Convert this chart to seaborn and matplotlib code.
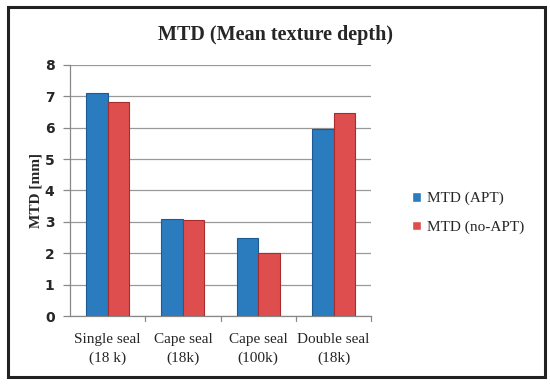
import pandas as pd
import matplotlib.pyplot as plt
import seaborn as sns
from matplotlib.patches import Rectangle

categories = ['Single seal\n(18 k)', 'Cape seal\n(18k)', 'Cape seal\n(100k)', 'Double seal\n(18k)']
mtd_apt = [7.1, 3.1, 2.5, 5.97]
mtd_no_apt = [6.83, 3.07, 2.0, 6.48]
series = ['MTD (APT)', 'MTD (no-APT)']

df = pd.DataFrame({
    'cat': categories * 2,
    'val': mtd_apt + mtd_no_apt,
    'series': [series[0]] * 4 + [series[1]] * 4,
})

sns.set_style('white')
plt.rcParams['font.family'] = ['Liberation Serif', 'DejaVu Serif']

fig = plt.figure(figsize=(5.5, 3.84), dpi=100)
ax = fig.add_axes([0.127, 0.177, 0.548, 0.654])

pal = {series[0]: '#2b7bbf', series[1]: '#de4e4e'}
sns.barplot(data=df, x='cat', y='val', hue='series', palette=pal, width=0.57,
            saturation=1, ax=ax, zorder=3)
edges = {series[0]: '#1d5a92', series[1]: '#a82c2c'}
for cont, s in zip(ax.containers, series):
    for b in cont:
        b.set_edgecolor(edges[s])
        b.set_linewidth(0.8)

ax.set_ylim(0, 8)
ax.set_xlim(-0.5, 3.5)
ax.set_yticks(range(0, 9))
ax.set_yticklabels([str(i) for i in range(9)], family='DejaVu Sans', fontsize=10,
                   fontweight='semibold')
ax.yaxis.grid(True, color='#999999', linewidth=0.9, zorder=0)
ax.set_xticks([0, 1, 2, 3])
ax.set_xticklabels(categories, fontsize=11, linespacing=1.55)
ax.tick_params(axis='x', length=0, pad=12)
for x in [0.5, 1.5, 2.5, 3.5]:
    ax.plot([x, x], [0, -0.15], color='#888888', lw=0.9, clip_on=False)
ax.tick_params(axis='y', length=5, color='#888888', width=0.9, left=True, pad=6)
for side in ['top', 'right']:
    ax.spines[side].set_visible(False)
for side in ['left', 'bottom']:
    ax.spines[side].set_color('#888888')
    ax.spines[side].set_linewidth(0.9)

ax.set_xlabel('')
ax.set_ylabel('MTD [mm]', fontsize=11, fontweight='bold', labelpad=2)
fig.text(0.5, 0.91, 'MTD (Mean texture depth)', ha='center', va='center',
         fontsize=14.5, fontweight='bold')

ax.legend(loc='center left', bbox_to_anchor=(1.09, 0.41), frameon=False,
          fontsize=11, handlelength=0.6, handleheight=0.6, handletextpad=0.4,
          labelspacing=1.0)

fig.patches.append(Rectangle((0.015, 0.018), 0.975, 0.965, transform=fig.transFigure,
                             fill=False, edgecolor='#222222', linewidth=2.2))

fig.savefig('out.png', dpi=100)
